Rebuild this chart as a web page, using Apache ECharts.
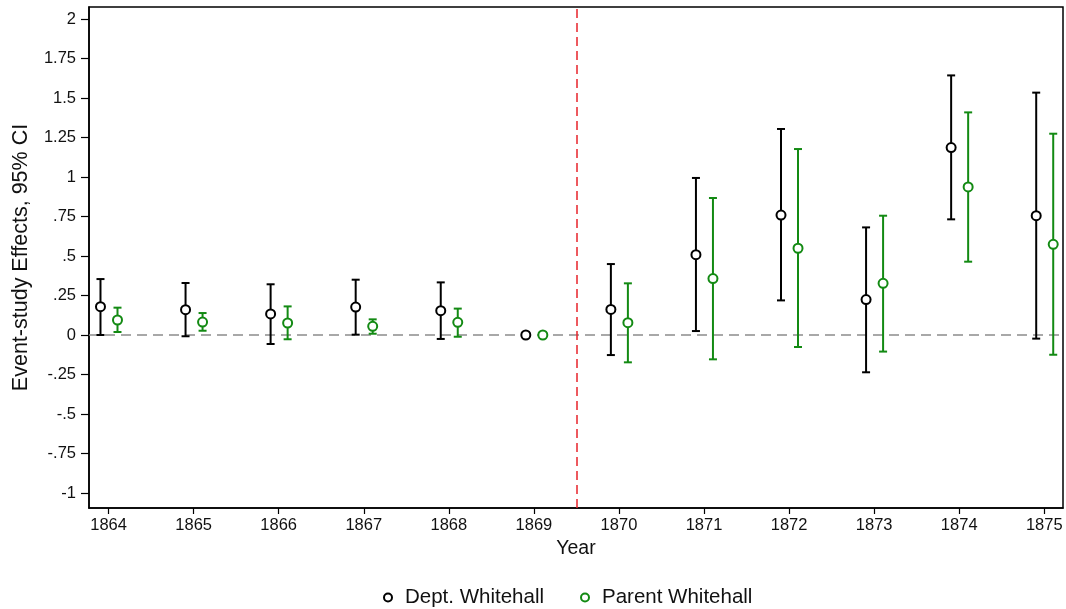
<!DOCTYPE html>
<html><head><meta charset="utf-8">
<script src="https://cdn.jsdelivr.net/npm/echarts@6/dist/echarts.min.js"></script>
<style>html,body{margin:0;padding:0;background:#fff}#c{width:1066px;height:609px}</style>
</head><body><div id="c"></div>
<script>
var years = [1864,1865,1866,1867,1868,1869,1870,1871,1872,1873,1874,1875];
var deptEst = [0.179,0.160,0.133,0.177,0.154,0,0.162,0.508,0.759,0.224,1.186,0.755];
var deptLo  = [0.000,-0.008,-0.057,0.002,-0.025,null,-0.127,0.025,0.219,-0.236,0.732,-0.023];
var deptHi  = [0.354,0.329,0.321,0.350,0.333,null,0.449,0.994,1.304,0.681,1.643,1.534];
var parentEst = [0.095,0.082,0.076,0.055,0.080,0,0.078,0.357,0.549,0.327,0.937,0.574];
var parentLo  = [0.019,0.027,-0.027,0.008,-0.011,null,-0.173,-0.154,-0.076,-0.105,0.464,-0.125];
var parentHi  = [0.173,0.139,0.181,0.099,0.167,null,0.327,0.867,1.177,0.755,1.409,1.274];
var yTickValues = [-1,-0.75,-0.5,-0.25,0,0.25,0.5,0.75,1,1.25,1.5,1.75,2];
var yTickLabels = ['-1','-.75','-.5','-.25','0','.25','.5','.75','1','1.25','1.5','1.75','2'];
var seriesNames = ['Dept. Whitehall','Parent Whitehall'];
var treatmentLine = 1869.5;

var BLACK = '#000000', GREEN = '#138a13';
var OFF_D = -0.095, OFF_P = 0.105;
var FONT = 'Liberation Sans, Arial, Helvetica, sans-serif';

function pts(est, off){ return years.map(function(y,i){ return [y+off, est[i]]; }); }
function bars(lo, hi, off){
  var out = [];
  years.forEach(function(y,i){ if(lo[i]!=null && hi[i]!=null) out.push([y+off, lo[i], hi[i]]); });
  return out;
}
function errRender(color){
  return function(params, api){
    var x = api.value(0);
    var a = api.coord([x, api.value(1)]);
    var b = api.coord([x, api.value(2)]);
    var w = 4;
    var st = {stroke: color, lineWidth: 2};
    return {type:'group', children:[
      {type:'line', shape:{x1:a[0],y1:a[1],x2:b[0],y2:b[1]}, style:st},
      {type:'line', shape:{x1:a[0]-w,y1:a[1],x2:a[0]+w,y2:a[1]}, style:st},
      {type:'line', shape:{x1:b[0]-w,y1:b[1],x2:b[0]+w,y2:b[1]}, style:st}
    ]};
  };
}

var chart = echarts.init(document.getElementById('c'), null, {renderer:'canvas'});
chart.setOption({
  animation:false,
  backgroundColor:'#fff',
  textStyle:{fontFamily:FONT},
  grid:{left:89, right:3, top:7, bottom:101, show:true, borderColor:'#000', borderWidth:1.5, backgroundColor:'#fff'},
  legend:{
    data:[{name:seriesNames[0], icon:'circle'},{name:seriesNames[1], icon:'circle'}],
    top:582, left:378, itemWidth:8, itemHeight:8, itemGap:36,
    textStyle:{fontSize:20.5, color:'#111', fontFamily:FONT, padding:[0,0,0,8]}
  },
  xAxis:{
    type:'value', min:1863.77, max:1875.22,
    name:'Year', nameLocation:'middle', nameGap:31,
    nameTextStyle:{fontSize:19.5, color:'#111', fontFamily:FONT},
    axisLine:{show:true, onZero:false, lineStyle:{color:'#000', width:1.5}},
    axisTick:{show:true, length:6, lineStyle:{color:'#000', width:1.2}, customValues:years},
    axisLabel:{fontSize:16.5, color:'#111', margin:9, customValues:years, formatter:function(v){return String(v);}},
    splitLine:{show:false}
  },
  yAxis:{
    type:'value', min:-1.095, max:2.076,
    name:'Event-study Effects, 95% CI', nameLocation:'middle', nameGap:57, nameRotate:90,
    nameTextStyle:{fontSize:21.5, color:'#111', fontFamily:FONT},
    axisLine:{show:true, onZero:false, lineStyle:{color:'#000', width:1.5}},
    axisTick:{show:true, length:8, lineStyle:{color:'#000', width:1.2}, customValues:yTickValues},
    axisLabel:{fontSize:16.5, color:'#111', margin:13, customValues:yTickValues, formatter:function(v){
      for(var i=0;i<yTickValues.length;i++){ if(Math.abs(yTickValues[i]-v)<1e-6) return yTickLabels[i]; }
      return '';
    }},
    splitLine:{show:false}
  },
  series:[
    {type:'custom', name:'dept-ci', renderItem:errRender(BLACK), data:bars(deptLo,deptHi,OFF_D), z:3,
     encode:{x:0,y:[1,2]},
     markLine:{silent:true, symbol:'none', label:{show:false}, z:2, data:[
       {yAxis:0, lineStyle:{color:'#8c8c8c', width:1.5, type:[10,6]}},
       {xAxis:treatmentLine, lineStyle:{color:'#e8232a', width:1.5, type:[9,5]}}
     ]}},
    {type:'custom', name:'parent-ci', renderItem:errRender(GREEN), data:bars(parentLo,parentHi,OFF_P), z:3,
     encode:{x:0,y:[1,2]}},
    {type:'scatter', name:seriesNames[0], data:pts(deptEst,OFF_D), symbol:'circle', symbolSize:9, z:5,
     itemStyle:{color:'#fff', borderColor:BLACK, borderWidth:2, opacity:1}},
    {type:'scatter', name:seriesNames[1], data:pts(parentEst,OFF_P), symbol:'circle', symbolSize:9, z:5,
     itemStyle:{color:'#fff', borderColor:GREEN, borderWidth:2, opacity:1}}
  ]
});
</script></body></html>
